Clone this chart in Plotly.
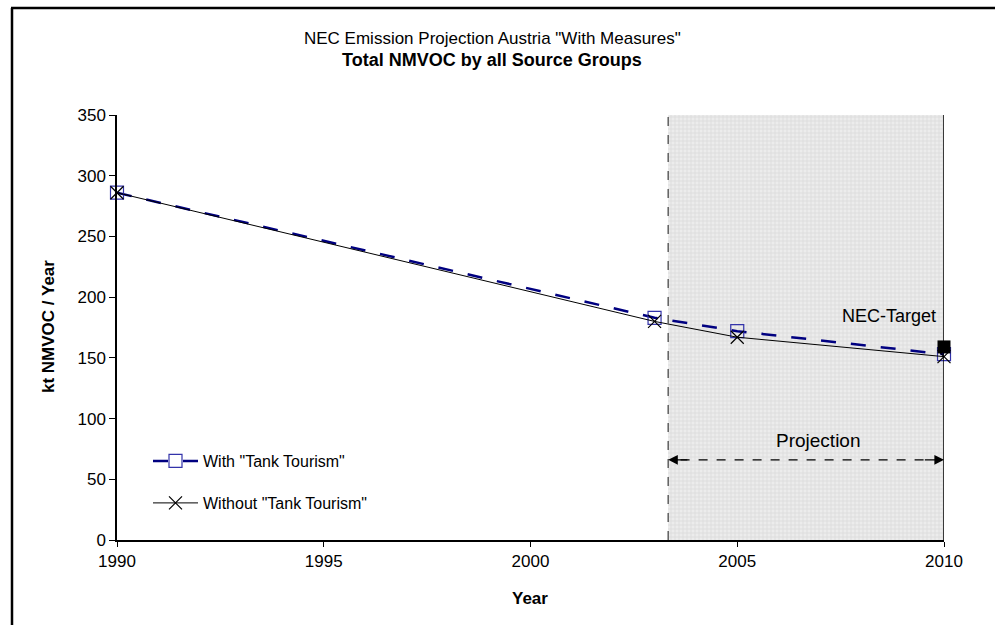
import plotly.graph_objects as go

years = [1990, 2003, 2005, 2010]
with_tank = [286, 183, 172, 153]
without_tank = [286, 180, 167, 151]
nec_target_year = [2010]
nec_target = [159]
proj_start, proj_end = 2003.33, 2010
y_ticks = [0, 50, 100, 150, 200, 250, 300, 350]
x_ticks = [1990, 1995, 2000, 2005, 2010]

FONT = "Liberation Sans, Arial, sans-serif"
L, R, T, B = 117, 51, 115, 85
PW, PH = 995 - L - R, 625 - T - B


def px(xp):
    return (xp - L) / PW


def py(yp):
    return (625 - B - yp) / PH


fig = go.Figure()

fig.add_trace(go.Bar(
    x=[(proj_start + proj_end) / 2], y=[350], width=[proj_end - proj_start],
    marker=dict(color="#e6e6e6", line=dict(width=0),
                pattern=dict(shape="+", fgcolor="#c4c4c4", bgcolor="#ececec", size=4, solidity=0.3)),
    showlegend=False, hoverinfo="skip"))

fig.add_trace(go.Scatter(
    x=years, y=with_tank, name='With "Tank Tourism"', mode="lines+markers",
    line=dict(color="#000080", width=2.5, dash="longdash"),
    marker=dict(symbol="square-open", size=13, color="#3333aa", line=dict(width=1.2)),
    cliponaxis=False, legend="legend"))

fig.add_trace(go.Scatter(
    x=years, y=without_tank, name='Without "Tank Tourism"', mode="lines+markers",
    line=dict(color="black", width=1),
    marker=dict(symbol="x-thin-open", size=13, color="black", line=dict(width=1.2, color="black")),
    cliponaxis=False, legend="legend2"))

fig.add_trace(go.Scatter(
    x=nec_target_year, y=nec_target, mode="markers", showlegend=False,
    marker=dict(symbol="square", size=13, color="black"), cliponaxis=False))

shapes = [
    dict(type="line", xref="x", yref="y", x0=proj_start, x1=proj_start, y0=0, y1=350,
         line=dict(color="#606060", width=1.5, dash="dash")),
    dict(type="line", xref="x", yref="y", x0=proj_end, x1=proj_end, y0=0, y1=350,
         line=dict(color="black", width=1.5)),
    dict(type="line", xref="x", yref="y", x0=proj_start + 0.3, x1=proj_end - 0.3, y0=66, y1=66,
         line=dict(color="black", width=1.2, dash="dash")),
    dict(type="line", xref="paper", yref="paper", x0=px(12), x1=px(12), y0=py(625), y1=py(8),
         line=dict(color="black", width=2.5)),
    dict(type="line", xref="paper", yref="paper", x0=px(11), x1=px(995), y0=py(8), y1=py(8),
         line=dict(color="black", width=2.5)),
]

annotations = [
    dict(text="NEC Emission Projection Austria \"With Measures\"",
         xref="paper", yref="paper", x=px(492), y=py(38), xanchor="center", yanchor="middle",
         showarrow=False, font=dict(family=FONT, size=17, color="black")),
    dict(text="<b>Total NMVOC by all Source Groups</b>",
         xref="paper", yref="paper", x=px(492), y=py(60), xanchor="center", yanchor="middle",
         showarrow=False, font=dict(family=FONT, size=18, color="black")),
    dict(text="<b>kt NMVOC / Year</b>", xref="paper", yref="paper", x=px(48), y=py(327),
         xanchor="center", yanchor="middle", textangle=-90, showarrow=False,
         font=dict(family=FONT, size=17, color="black")),
    dict(text="<b>Year</b>", xref="paper", yref="paper", x=px(530), y=py(598),
         xanchor="center", yanchor="middle", showarrow=False,
         font=dict(family=FONT, size=17, color="black")),
    dict(text="NEC-Target", xref="paper", yref="paper", x=px(938), y=py(316), xanchor="right", yanchor="middle",
         showarrow=False, font=dict(family=FONT, size=18, color="black")),
    dict(text="Projection", xref="paper", yref="paper", x=px(818), y=py(440), xanchor="center", yanchor="middle",
         showarrow=False, font=dict(family=FONT, size=19, color="black")),
    dict(text="", xref="x", yref="y", x=proj_start, y=66, ax=proj_start + 0.5, ay=66,
         axref="x", ayref="y", showarrow=True, arrowhead=2, arrowsize=1.6, arrowwidth=1.2, arrowcolor="black"),
    dict(text="", xref="x", yref="y", x=proj_end, y=66, ax=proj_end - 0.5, ay=66,
         axref="x", ayref="y", showarrow=True, arrowhead=2, arrowsize=1.6, arrowwidth=1.2, arrowcolor="black"),
]

fig.update_layout(
    width=995, height=625,
    margin=dict(l=L, r=R, t=T, b=B, autoexpand=False),
    paper_bgcolor="white", plot_bgcolor="white",
    font=dict(family=FONT, size=17, color="black"),
    shapes=shapes, annotations=annotations,
    showlegend=True, bargap=0,
    legend=dict(x=px(148), y=py(461), xanchor="left", yanchor="middle", itemwidth=45,
                bgcolor="rgba(0,0,0,0)", font=dict(size=16, family=FONT)),
    legend2=dict(x=px(148), y=py(503), xanchor="left", yanchor="middle", itemwidth=45,
                 bgcolor="rgba(0,0,0,0)", font=dict(size=16, family=FONT)),
    xaxis=dict(range=[1990, 2010], tickvals=x_ticks, showline=True, linecolor="black", linewidth=1.5,
               ticks="outside", ticklen=5, tickcolor="black", showgrid=False, zeroline=False,
               automargin=False, tickfont=dict(size=17, family=FONT)),
    yaxis=dict(range=[0, 350], tickvals=y_ticks, showline=True, linecolor="black", linewidth=1.5,
               ticks="outside", ticklen=6, tickcolor="black", showgrid=False, zeroline=False,
               automargin=False, tickfont=dict(size=17, family=FONT)),
)

fig.write_html("out.html")
